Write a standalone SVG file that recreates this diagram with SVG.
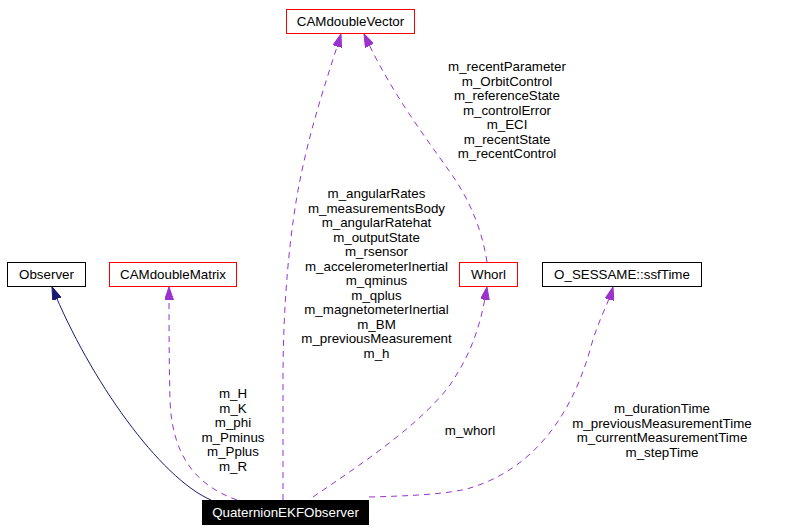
<svg xmlns="http://www.w3.org/2000/svg" width="808" height="532" viewBox="0 0 808 532">
<style>
text{font-family:"Liberation Sans",Arial,sans-serif;font-size:13.33px;text-anchor:middle;fill:#000}
.nb{fill:#fff;stroke:#000;stroke-width:1}
.nr{fill:#fff;stroke:#ff0000;stroke-width:1}
.nk{fill:#000;stroke:#000;stroke-width:1}
.wt{fill:#fff}
.use{fill:none;stroke:#9a32cd;stroke-width:1;stroke-dasharray:6,5}
.inh{fill:none;stroke:#191970;stroke-width:1}
</style>
<defs>
<marker id="ap" viewBox="0 0 13 9" refX="13" refY="4.5" markerWidth="13" markerHeight="9" markerUnits="userSpaceOnUse" orient="auto"><path d="M0,0 L13,4.5 L0,9 z" fill="#9a32cd" stroke="#9a32cd"/></marker>
<marker id="an" viewBox="0 0 13 9" refX="13" refY="4.5" markerWidth="13" markerHeight="9" markerUnits="userSpaceOnUse" orient="auto"><path d="M0,0 L13,4.5 L0,9 z" fill="#191970" stroke="#191970"/></marker>
</defs>
<g id="edges">
<path class="inh" d="M211,500 C160,478 90,380 52,287" marker-end="url(#an)"/>
<path class="use" d="M237,500 C195,485 172,455 170,400 C169,360 169,320 169,287" marker-end="url(#ap)"/>
<path class="use" d="M283,500 L283,380 C283,300 290,230 300,180 C312,120 330,70 341,34" marker-end="url(#ap)"/>
<path class="use" d="M487,262 C482,230 470,200 450,172 C420,130 390,90 364,34" marker-end="url(#ap)"/>
<path class="use" d="M313,497 C360,465 420,425 450,385 C470,355 480,330 487,287" marker-end="url(#ap)"/>
<path class="use" d="M369,497 C410,496 450,494 470,488 C530,470 570,420 590,350 C598,320 608,305 613,287" marker-end="url(#ap)"/>
<text x="233" y="398">m_H</text>
<text x="233" y="412.5">m_K</text>
<text x="233" y="427">m_phi</text>
<text x="233" y="441.5">m_Pminus</text>
<text x="233" y="456">m_Pplus</text>
<text x="233" y="470.5">m_R</text>
<text x="376.5" y="198">m_angularRates</text>
<text x="376.5" y="212.5">m_measurementsBody</text>
<text x="376.5" y="227">m_angularRatehat</text>
<text x="376.5" y="241.5">m_outputState</text>
<text x="376.5" y="256">m_rsensor</text>
<text x="376.5" y="270.5">m_accelerometerInertial</text>
<text x="376.5" y="285">m_qminus</text>
<text x="376.5" y="299.5">m_qplus</text>
<text x="376.5" y="314">m_magnetometerInertial</text>
<text x="376.5" y="328.5">m_BM</text>
<text x="376.5" y="343">m_previousMeasurement</text>
<text x="376.5" y="357.5">m_h</text>
<text x="507" y="71">m_recentParameter</text>
<text x="507" y="85.5">m_OrbitControl</text>
<text x="507" y="100">m_referenceState</text>
<text x="507" y="114.5">m_controlError</text>
<text x="507" y="129">m_ECI</text>
<text x="507" y="143.5">m_recentState</text>
<text x="507" y="158">m_recentControl</text>
<text x="470" y="435">m_whorl</text>
<text x="662" y="413">m_durationTime</text>
<text x="662" y="427.5">m_previousMeasurementTime</text>
<text x="662" y="442">m_currentMeasurementTime</text>
<text x="662" y="456.5">m_stepTime</text>
</g>
<g id="QuaternionEKFObserver"><rect class="nk" x="202.5" y="500.5" width="166" height="24"/><text class="wt" x="285.5" y="517">QuaternionEKFObserver</text></g>
<g id="Observer"><rect class="nb" x="7.5" y="262.5" width="78" height="24"/><text x="46.5" y="279">Observer</text></g>
<g id="CAMdoubleMatrix"><rect class="nr" x="109.5" y="262.5" width="127" height="24"/><text x="173" y="279">CAMdoubleMatrix</text></g>
<g id="CAMdoubleVector"><rect class="nr" x="286.5" y="9.5" width="128" height="24"/><text x="350.5" y="26">CAMdoubleVector</text></g>
<g id="Whorl"><rect class="nr" x="459.5" y="262.5" width="58" height="24"/><text x="488.5" y="279">Whorl</text></g>
<g id="O_SESSAME_ssfTime"><rect class="nb" x="542.5" y="262.5" width="159" height="24"/><text x="622" y="279">O_SESSAME::ssfTime</text></g>
</svg>
